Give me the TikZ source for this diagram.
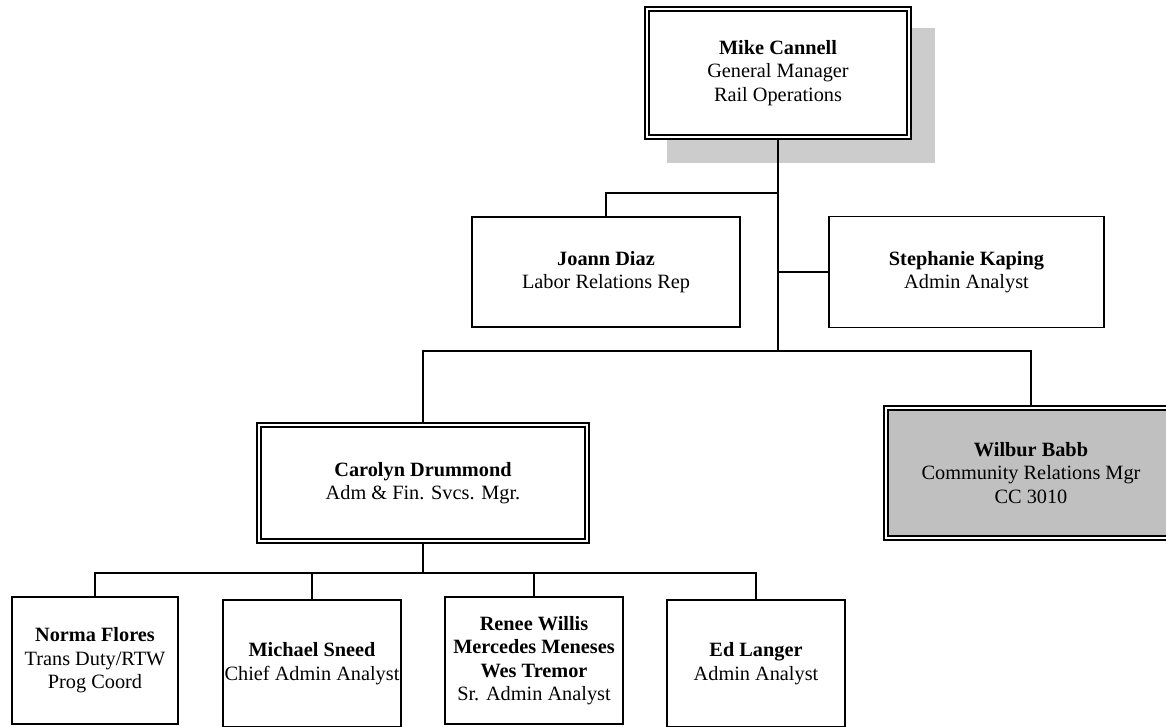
\documentclass[tikz,border=0pt]{standalone}
\usepackage{fontspec}
\setmainfont{Liberation Serif}
\definecolor{shadowgray}{RGB}{204,204,204}
\definecolor{boxgray}{RGB}{192,192,192}

\begin{document}
\begin{tikzpicture}[
    x=1pt, y=-1pt,
    person/.style={rectangle, draw, line width=1.5pt, fill=white, align=center, inner sep=0pt, font=\fontsize{20.3}{23.5}\selectfont},
    chief/.style={person, double, line width=1.8pt, double distance=2.2pt},
    shade/.style={rectangle, fill=shadowgray, inner sep=0pt},
    link/.style={draw, line width=1.6pt}
]
\useasboundingbox (0,0) rectangle (1166,726);

\node[shade, minimum width=268pt, minimum height=135pt] (gmshadow) at (801,95.5) {};
\node[chief, minimum width=262pt, minimum height=128pt] (gm) at (778,73) {\textbf{Mike Cannell}\\General Manager\\Rail Operations};
\node[person, minimum width=268pt, minimum height=110pt] (diaz) at (606,272) {\textbf{Joann Diaz}\\Labor Relations Rep};
\node[person, minimum width=275pt, minimum height=111pt] (kaping) at (966.5,272) {\textbf{Stephanie Kaping}\\Admin Analyst};
\node[chief, minimum width=328pt, minimum height=116pt] (drummond) at (423,483) {\textbf{Carolyn Drummond}\\Adm \& Fin. Svcs. Mgr.};
\node[chief, fill=boxgray, minimum width=290pt, minimum height=130pt] (babb) at (1031,473) {\textbf{Wilbur Babb}\\Community Relations Mgr\\CC 3010};
\node[person, minimum width=166pt, minimum height=127pt] (flores) at (95,660.5) {\textbf{Norma Flores}\\Trans Duty/RTW\\Prog Coord};
\node[person, minimum width=178pt, minimum height=127pt] (sneed) at (312,663.5) {\textbf{Michael Sneed}\\Chief Admin Analyst};
\node[person, minimum width=178pt, minimum height=127pt] (willis) at (534,660.5) {\textbf{Renee Willis}\\\textbf{Mercedes Meneses}\\\textbf{Wes Tremor}\\Sr. Admin Analyst};
\node[person, minimum width=178pt, minimum height=127pt] (langer) at (756,663.5) {\textbf{Ed Langer}\\Admin Analyst};

\coordinate (hub) at (778,351);
\draw[link] (gm.south) -- (hub);
\draw[link] (diaz.north) -- ++(0,-23) -| (gm.south);
\draw[link] (kaping.west) -- (kaping.west -| gm.south);
\draw[link] (drummond.north) |- (hub) -| (babb.north);

\draw[link] (drummond.south) -- ++(0,31) coordinate (fork);
\draw[link] (fork) -| (flores.north);
\draw[link] (fork) -| (sneed.north);
\draw[link] (fork) -| (willis.north);
\draw[link] (fork) -| (langer.north);

\end{tikzpicture}
\end{document}
